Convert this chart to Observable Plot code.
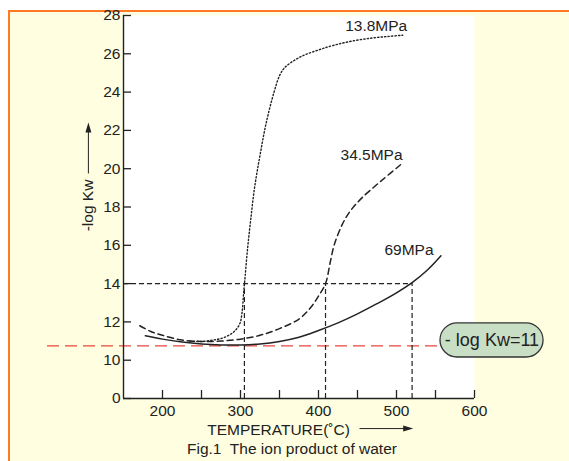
<!DOCTYPE html>
<html><head><meta charset="utf-8">
<script src="https://cdn.jsdelivr.net/npm/d3@7"></script>
<script src="https://cdn.jsdelivr.net/npm/@observablehq/plot@0.6"></script>
<style>
html,body{margin:0;padding:0;background:#fff;width:569px;height:461px;overflow:hidden;}
#bg{position:absolute;left:8px;top:10px;right:0;bottom:0;background:#fffee0;border-top:2px solid #ff7a22;border-left:2px solid #ff7a22;}
#chart{position:absolute;left:0;top:0;width:569px;}
#chart figure{margin:0 !important;}
#chart figcaption{font:15.5px "Liberation Sans",Arial,sans-serif;color:#222;text-align:center;padding-left:15px;line-height:18px;margin:0;white-space:pre;}
#chart svg g[aria-label$="tick label"], #chart svg g[aria-label$="tick label"] text{font-size:15.5px !important;font-family:"Liberation Sans",Arial,sans-serif !important;font-variant:normal !important;}
</style></head><body>
<div id="bg"></div><div id="chart"></div>
<script>
// ---- data ----
const temp138 = [235,250,265,280,292,299,302,304,306,309,313,318,325,333,343,350,356,365,380,400,420,445,470,490,508];
const logKw138 = [11.0,10.98,11.05,11.2,11.5,11.9,12.5,13.5,14.4,15.8,17.3,19.0,20.7,22.4,24.0,24.85,25.25,25.55,25.9,26.2,26.45,26.68,26.83,26.91,26.97];
const temp345 = [171,185,200,225,250,275,300,325,350,375,390,400,409,415,420,430,440,455,480,508];
const logKw345 = [11.8,11.5,11.3,11.05,10.98,11.0,11.1,11.3,11.65,12.15,12.75,13.35,14.0,15.1,16.0,17.05,17.75,18.45,19.35,20.3];
const temp69 = [178,200,225,250,275,300,325,350,375,400,425,450,475,500,520,540,557];
const logKw69 = [11.28,11.1,10.95,10.85,10.8,10.8,10.85,10.98,11.2,11.55,11.95,12.42,12.95,13.52,14.05,14.72,15.45];

const seriesNames = ["13.8MPa","34.5MPa","69MPa"];
const labelTemps = [474,468,516];
const labelLevels = [27.43,20.69,15.73];

const guideLevel = 14;
const guideTemps = [305,409,520];

const refLevel = 10.75;
const refText = "- log Kw=11";
const refSpan = [52.6, 556];
const boxX = [556.4, 688.5];
const boxY = [10.14, 11.92];
const boxTextPos = [622.4, 11.03];

const xTicks = [200,250,300,350,400,450,500,550,600];
const xTickLabels = ["200","","300","","400","","500","","600"];
const yTicks = [8,10,12,14,16,18,20,22,24,26,28];
const yTickLabels = ["0","10","12","14","16","18","20","22","24","26","28"];

const xTitle = "TEMPERATURE(˚C)";
const xTitlePos = [348.7, 6.33];
const xArrow = {x1: 452.6, x2: 512, y: 6.43, head: 515};
const yTitle = "-log Kw";
const yTitlePos = [105, 18.08];
const yArrow = {x: 105, y1: 19.75, y2: 22.0, head: 22.15};
const caption = "Fig.1  The ion product of water";

// ---- build ----
const zip = (xs, ys) => xs.map((x, i) => ({x, y: ys[i]}));
const font = '"Liberation Sans", Arial, Helvetica, sans-serif';
const ink = "#222";
const headSymbol = {draw(ctx) { ctx.moveTo(0, -5); ctx.lineTo(3, 5); ctx.lineTo(-3, 5); ctx.closePath(); }};

const chart = Plot.plot({
  width: 569, height: 440,
  marginLeft: 123, marginRight: 95, marginTop: 15, marginBottom: 42,
  x: {domain: [150, 600]},
  y: {domain: [8, 28]},
  style: {background: "transparent", fontFamily: font, fontSize: "15.5px", color: ink, overflow: "visible"},
  caption: caption,
  marks: [
    Plot.frame({fill: "white", stroke: "none"}),
    Plot.ruleY([refLevel], {x1: () => refSpan[0], x2: () => refSpan[1], y: d => d, stroke: "#e8463c", strokeWidth: 1.4, strokeDasharray: "12,6"}),
    Plot.ruleY([guideLevel], {x1: () => 150, x2: () => guideTemps[2], y: d => d, stroke: ink, strokeWidth: 1.2, strokeDasharray: "5,3"}),
    Plot.ruleX(guideTemps, {x: d => d, y1: () => 8, y2: () => guideLevel, stroke: ink, strokeWidth: 1.2, strokeDasharray: "5,3"}),
    Plot.line(zip(temp69, logKw69), {x: "x", y: "y", curve: "catmull-rom", stroke: ink, strokeWidth: 1.5}),
    Plot.line(zip(temp345, logKw345), {x: "x", y: "y", curve: "catmull-rom", stroke: ink, strokeWidth: 1.5, strokeDasharray: "6,4"}),
    Plot.line(zip(temp138, logKw138), {x: "x", y: "y", curve: "catmull-rom", stroke: ink, strokeWidth: 1.4, strokeDasharray: "1.3,2.2"}),
    Plot.text(seriesNames, {x: (d, i) => labelTemps[i], y: (d, i) => labelLevels[i], text: d => d, fill: ink, fontSize: 15.5}),
    Plot.ruleX([150], {x: d => d, y1: () => 8, y2: () => 28, stroke: ink, strokeWidth: 1.4}),
    Plot.ruleY([8], {y: d => d, x1: () => 150, x2: () => 600, stroke: ink, strokeWidth: 1.4}),
    Plot.axisX({ticks: xTicks, tickFormat: d => xTickLabels[xTicks.indexOf(d)], tickSize: -8, tickPadding: 14, stroke: ink, strokeWidth: 1.3, label: null, fill: ink, fontSize: 15.5}),
    Plot.axisY({ticks: yTicks, tickFormat: d => yTickLabels[yTicks.indexOf(d)], tickSize: -8, tickPadding: 11, stroke: ink, strokeWidth: 1.3, label: null, fill: ink, fontSize: 15.5}),
    Plot.rect([refText], {x1: () => boxX[0], x2: () => boxX[1], y1: () => boxY[0], y2: () => boxY[1], rx: 17, fill: "#c8dfc6", stroke: "#333", strokeWidth: 1.3}),
    Plot.text([refText], {x: () => boxTextPos[0], y: () => boxTextPos[1], text: d => d, fontSize: 18, fill: ink}),
    Plot.text([xTitle], {x: () => xTitlePos[0], y: () => xTitlePos[1], text: d => d, fontSize: 15.5, fill: ink}),
    Plot.link([xArrow], {x1: "x1", x2: "x2", y1: "y", y2: "y", stroke: ink, strokeWidth: 1}),
    Plot.dot([xArrow], {x: "head", y: "y", symbol: headSymbol, rotate: 90, fill: ink, stroke: "none"}),
    Plot.text([yTitle], {x: () => yTitlePos[0], y: () => yTitlePos[1], text: d => d, rotate: -90, fontSize: 15.5, fill: ink}),
    Plot.link([yArrow], {x1: "x", x2: "x", y1: "y1", y2: "y2", stroke: ink, strokeWidth: 1}),
    Plot.dot([yArrow], {x: "x", y: "head", symbol: headSymbol, fill: ink, stroke: "none"})
  ]
});
document.getElementById("chart").appendChild(chart);
</script></body></html>
